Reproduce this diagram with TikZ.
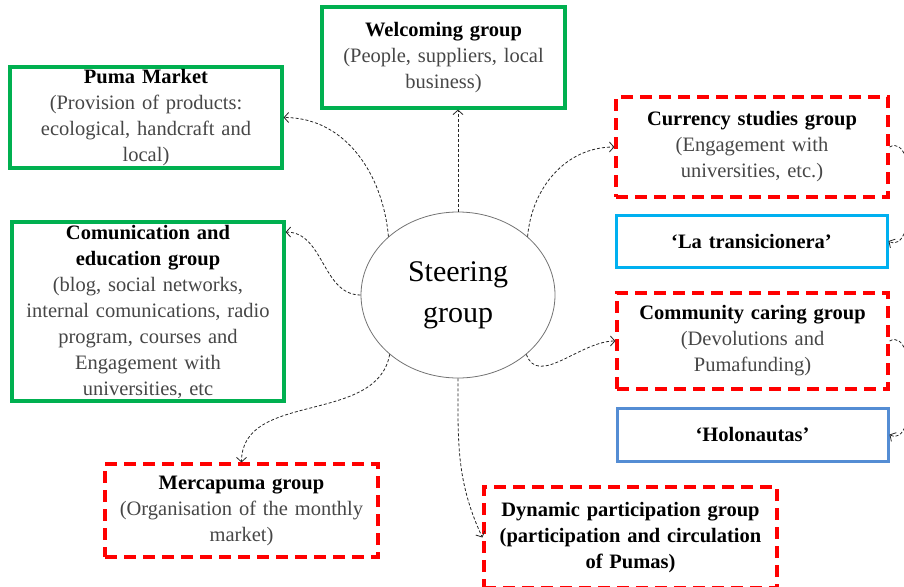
\documentclass[tikz,border=0pt]{standalone}
\usepackage{fontspec}
\setmainfont{Liberation Serif}
\usetikzlibrary{shapes.geometric, arrows.meta}
\definecolor{boxgreen}{RGB}{0,176,80}
\definecolor{boxred}{RGB}{255,0,0}
\definecolor{boxcyan}{RGB}{0,176,240}
\definecolor{boxblue}{RGB}{84,141,212}
\definecolor{descgray}{RGB}{70,70,70}
\newcommand{\desc}[1]{{\color{descgray}#1}}
\tikzset{
    every node/.style={rectangle, align=center, inner sep=0pt,
    	font=\fontsize{20.5}{26}\selectfont}
}
\tikzset{greenbox/.style={draw=boxgreen, line width=3.2pt}}
\tikzset{redbox/.style={draw=boxred, line width=3.2pt, dash pattern=on 12pt off 7pt}}
\tikzset{cyanbox/.style={draw=boxcyan, line width=3pt}}
\tikzset{bluebox/.style={draw=boxblue, line width=3pt}}
\tikzset{link/.style={-{Straight Barb[length=4.5pt,width=10pt]}, draw=black!85,
    line width=0.8pt, dash pattern=on 3pt off 2pt}}

\begin{document}
\begin{tikzpicture}[x=1pt, y=-1pt]
	\useasboundingbox (0,0) rectangle (904,586);
	\clip (0,0) rectangle (904,586);
	\node (steer) [ellipse, draw=black!55, line width=0.8pt, minimum width=194pt,
		minimum height=166pt, font=\fontsize{30}{41}\selectfont] at (458, 295) {Steering\\ group};
	\node (welcome) [greenbox, minimum width=243pt, minimum height=101pt, text width=237pt]
		at (443.5, 57.5) {\textbf{Welcoming group}\\ \desc{(People, suppliers, local\\ business)}};
	\node (market) [greenbox, minimum width=272pt, minimum height=101pt, text width=266pt]
		at (146, 117.5) {\textbf{Puma Market}\\ \desc{(Provision of products:\\ ecological, handcraft and\\ local)}};
	\node (comm) [greenbox, minimum width=272pt, minimum height=179pt, text width=266pt]
		at (148, 311.5) {\textbf{Comunication and}\\ \textbf{education group}\\ \desc{(blog, social networks,\\
		internal comunications, radio\\ program, courses and\\ Engagement with\\ universities, etc}};
	\node (currency) [redbox, minimum width=272pt, minimum height=100pt, text width=266pt]
		at (752, 147) {\textbf{Currency studies group}\\ \desc{(Engagement with\\ universities, etc.)}};
	\node (trans) [cyanbox, minimum width=271pt, minimum height=52pt, text width=265pt]
		at (751.5, 241) {\textbf{`La transicionera'}};
	\node (community) [redbox, minimum width=271pt, minimum height=96pt, text width=265pt]
		at (752.5, 341) {\textbf{Community caring group}\\ \desc{(Devolutions and\\ Pumafunding)}};
	\node (holo) [bluebox, minimum width=271pt, minimum height=53pt, text width=265pt]
		at (752.5, 434.5) {\textbf{`Holonautas'}};
	\node (merca) [redbox, minimum width=273pt, minimum height=93pt, text width=267pt]
		at (241.5, 510.5) {\textbf{Mercapuma group}\\ \desc{(Organisation of the monthly\\ market)}};
	\node (dynamic) [redbox, minimum width=293pt, minimum height=101pt, text width=287pt]
		at (630.5, 537.5) {\textbf{Dynamic participation group}\\ \textbf{(participation and circulation}\\ \textbf{of Pumas)}};

	\draw [link] (steer.north) -- (steer.north |- welcome.south);
	\draw [link] (steer.140) to[out=95, in=0] (market.east);
	\draw [link] (steer.40) to[out=85, in=180] (currency.west);
	\draw [link] (steer.180) to[out=180, in=0] (comm.30);
	\draw [link] (steer.-41) to[out=-70, in=180] (community.west);
	\draw [link] (steer.-139) to[out=-100, in=90] (merca.north);
	\draw [link] (steer.south) to[out=-90, in=115] (dynamic.west);
	\draw [link] (currency.east) to[out=30, in=-30, looseness=0.9] (trans.east);
	\draw [link] (community.east) to[out=30, in=-30, looseness=0.9] (holo.east);
\end{tikzpicture}
\end{document}
